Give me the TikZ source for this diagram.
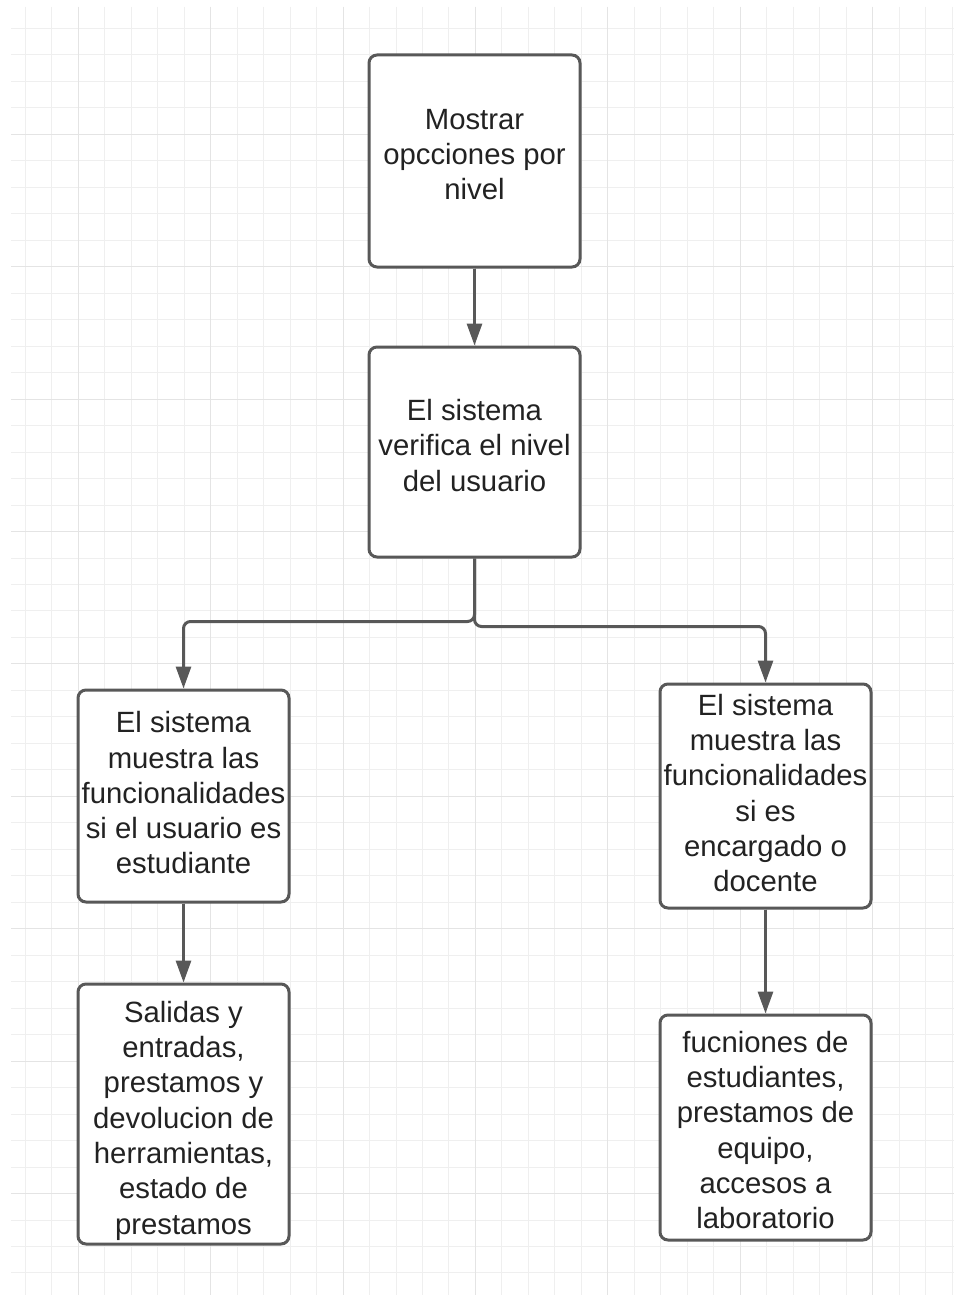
\documentclass[tikz,border=0pt]{standalone}
\usepackage{fontspec}
\setmainfont{Liberation Sans}
\usetikzlibrary{arrows.meta}
\definecolor{gridminor}{RGB}{239,239,239}
\definecolor{gridmajor}{RGB}{228,228,228}
\definecolor{linec}{RGB}{88,88,88}
\definecolor{textc}{RGB}{34,34,34}
\newcommand\boxlines[2]{\raisebox{#1}[0pt][0pt]{\begin{tabular}[c]{@{}c@{}}#2\end{tabular}}}
\tikzset{
  box/.style={draw=linec, line width=3pt, rounded corners=8pt, fill=white,
    minimum width=211pt, inner sep=0pt, text=textc,
    font=\fontsize{29.3}{35.3}\selectfont},
  conn/.style={draw=linec, line width=3pt, rounded corners=7pt,
    -{Triangle[length=22pt,width=15pt]}},
}
\begin{document}
\begin{tikzpicture}[x=1pt,y=-1pt]
\useasboundingbox (0,0) rectangle (954,1295);
\fill[white] (0,0) rectangle (954,1295);
% grid
\foreach \k in {0,...,35} {
  \pgfmathsetmacro\xx{25.3+26.48*\k}
  \draw[gridminor, line width=1pt] (\xx,7) -- (\xx,1295);
}
\foreach \k in {0,...,47} {
  \pgfmathsetmacro\yy{28.4+26.48*\k}
  \draw[gridminor, line width=1pt] (11,\yy) -- (954,\yy);
}
\foreach \k in {2,7,...,32} {
  \pgfmathsetmacro\xx{25.3+26.48*\k}
  \draw[gridmajor, line width=1pt] (\xx,7) -- (\xx,1295);
}
\foreach \k in {4,9,...,44} {
  \pgfmathsetmacro\yy{28.4+26.48*\k}
  \draw[gridmajor, line width=1pt] (11,\yy) -- (954,\yy);
}
% nodes
\node[box, minimum height=212pt] (b1) at (474.5,161)
  {\boxlines{-2.5pt}{Mostrar\\opcciones por\\nivel}};
\node[box, minimum height=210pt] (b2) at (474.5,452)
  {\boxlines{-3pt}{El sistema\\verifica el nivel\\del usuario}};
\node[box, minimum height=212pt] (b3) at (183.5,796)
  {\boxlines{-6.5pt}{El sistema\\muestra las\\funcionalidades\\si el usuario es\\estudiante}};
\node[box, minimum height=224pt] (b4) at (765.5,796)
  {\boxlines{-6.7pt}{El sistema\\muestra las\\funcionalidades\\si es\\encargado o\\docente}};
\node[box, minimum height=260pt] (b5) at (183.5,1114)
  {\boxlines{-13.3pt}{Salidas y\\entradas,\\prestamos y\\devolucion de\\herramientas,\\estado de\\prestamos}};
\node[box, minimum height=225pt] (b6) at (765.5,1127.5)
  {\boxlines{-12pt}{fucniones de\\estudiantes,\\prestamos de\\equipo,\\accesos a\\laboratorio}};
% connectors
\draw[conn] (b1.south) -- (b2.north);
\draw[conn] (b2.south) |- ([yshift=67pt]b3.north) -- (b3.north);
\draw[conn] (b2.south) |- ([yshift=56pt]b4.north) -- (b4.north);
\draw[conn] (b3.south) -- (b5.north);
\draw[conn] (b4.south) -- (b6.north);
\end{tikzpicture}
\end{document}
